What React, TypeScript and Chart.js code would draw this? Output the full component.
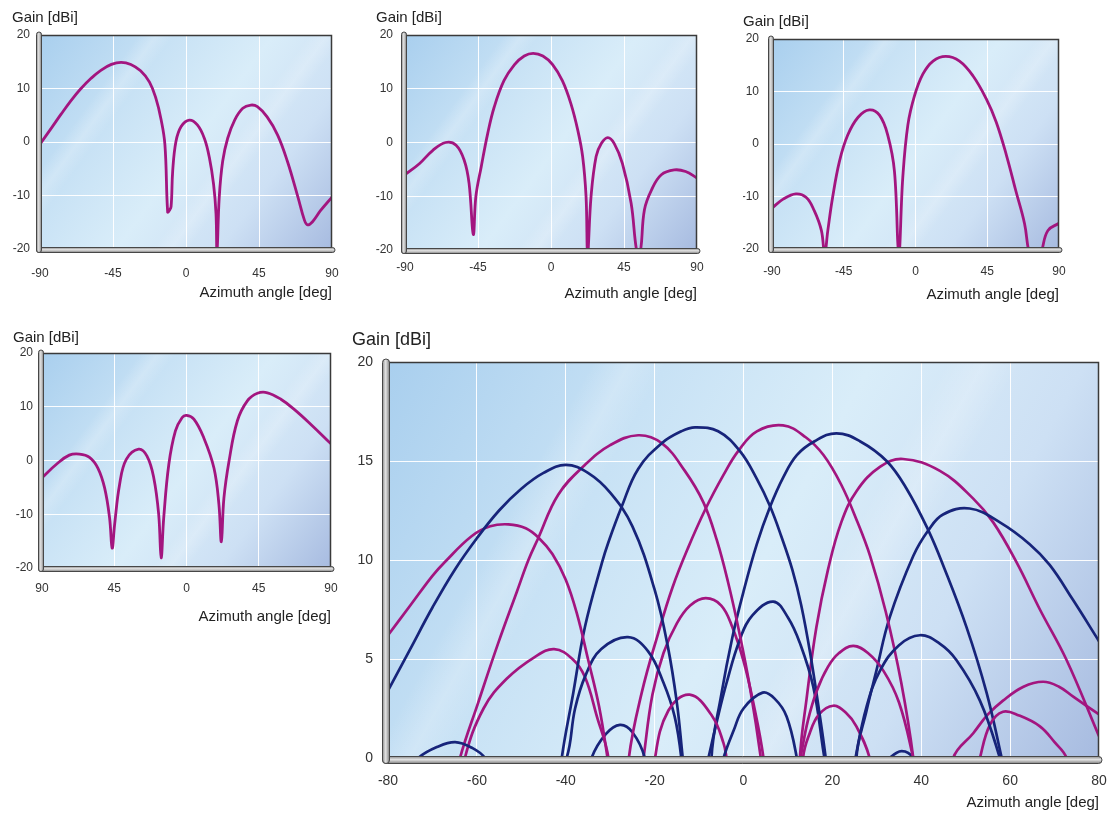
import React, { useEffect, useRef } from 'react';
import { Chart, registerables } from 'chart.js';

Chart.register(...registerables);

const MAGENTA = '#a3157f';
const NAVY = '#17247a';
const FONT = "'Liberation Sans', Arial, Helvetica, sans-serif";

// ---------- tick labels ----------
const smallYLabels = ['-20', '-10', '0', '10', '20'];
const smallXLabels = ['-90', '-45', '0', '45', '90'];
const sub4XLabels = ['90', '45', '0', '45', '90'];
const bigXLabels = ['-80', '-60', '-40', '-20', '0', '20', '40', '60', '80'];
const bigYLabels = ['0', '5', '10', '15', '20'];

// ---------- subplot 1 (beam at -40 deg) ----------
const sub1Angle = [-90, -83, -77, -71, -65, -58.5, -52.5, -46, -40, -34, -28, -22.5, -18.5, -15.5, -13, -11.3, -10.3, -9.2, -8.2, -6.2, -3, 2, 7, 11.3, 14.4, 17, 18.5, 19.1, 20.5, 22.6, 25.7, 30, 35, 40, 44, 50, 56.5, 62.5, 69, 73, 75, 78, 83, 90];
const sub1Gain = [-0.4, 2.6, 5.2, 7.7, 9.9, 11.9, 13.4, 14.5, 14.9, 14.5, 13.3, 11.2, 8.1, 4.4, -0.5, -13.1, -12.8, -12.1, -5.4, 0.1, 2.9, 4.1, 3.2, 0.7, -2.9, -7.9, -13.4, -20.5, -10.3, -3.6, 0.7, 4.1, 6.3, 6.9, 6.6, 4.7, 1.3, -3.6, -10.3, -14.6, -15.5, -14.9, -12.8, -10.3];

// ---------- subplot 2 (beam at -11 deg) ----------
const sub2Angle = [-90, -81, -73, -65, -58.5, -53.5, -50.5, -47.9, -46.3, -43, -39, -35, -29, -22.5, -16.5, -11, -5, 1, 7, 12.3, 16.5, 19.5, 21.6, 22.6, 24.7, 27.8, 31, 35, 39, 44, 49.4, 53, 55, 57.6, 62, 68, 76, 83, 90];
const sub2Gain = [-6.0, -3.9, -1.5, 0, -0.5, -3.3, -7.6, -17.1, -10, -4.5, 1.7, 6.6, 11.5, 14.5, 16.1, 16.6, 16.1, 14.5, 11.5, 7.2, 2.3, -2.6, -10, -20.5, -10, -2.6, -0.2, 0.9, -0.2, -3.9, -11.3, -20.5, -20.5, -12.5, -8.8, -6, -5.1, -5.4, -6.6];

// ---------- subplot 3 (beam at +19 deg) ----------
const sub3Angle = [-90, -83, -75, -68.5, -63.5, -59, -57, -55, -52, -47.7, -42.5, -36, -29, -22.6, -17.4, -13.2, -10.5, -8, -4.8, -0.6, 4.6, 11, 19, 27.6, 36, 44.4, 50.6, 57, 63, 68.4, 71.1, 75, 79, 83, 90];
const sub3Gain = [-12.2, -10.5, -9.5, -10.2, -12.7, -16.5, -21, -16.5, -10.2, -3.3, 1.7, 5.1, 6.5, 5.5, 1.7, -5.2, -21, -6.5, 3.6, 9.2, 13.3, 15.8, 16.7, 15.8, 13.0, 8.6, 4.2, -2.1, -9, -15.2, -20.5, -24, -20.5, -16.5, -15.1];

// ---------- subplot 4 (beam at +50 deg) ----------
const sub4Angle = [-90, -81, -73, -66.7, -60.4, -55.2, -51, -47.9, -46.3, -44.8, -41.7, -37.5, -29.8, -24.6, -20.4, -17.3, -15.8, -14.2, -11, -6.9, -2.7, 0, 4.6, 10.8, 17.1, 20.2, 21.7, 23.3, 26.5, 31.7, 37.9, 44.2, 50.4, 58.8, 67.1, 77.5, 90];
const sub4Gain = [-3.2, -0.7, 1.0, 1.2, 0.6, -1.4, -5.1, -10.7, -16.3, -12.0, -4.5, 0.2, 2.1, 0.8, -3.2, -10.1, -18.1, -10.7, -0.7, 5.5, 8.0, 8.4, 7.7, 4.2, -1.4, -8.2, -15.1, -7.0, -0.1, 7.4, 11.1, 12.5, 12.6, 11.4, 9.5, 6.7, 3.1];

// ---------- main chart: navy beams ----------
const n1Angle = [-80, -75, -70, -65, -60, -55, -50, -45, -40, -35, -30, -25, -20, -17, -15, -13.9, -12, -10, -8, -4.5, -2.2, 0, 4.3, 7, 9.7, 12, 14, 18, 22, 25.2, 27.7, 30.7, 35, 39.7, 44, 47.9, 53.2, 57.7, 60, 70, 80];
const n1Gain = [3.4, 5.5, 7.6, 9.5, 11.1, 12.5, 13.6, 14.4, 14.8, 14.4, 13.4, 11.7, 8.5, 5.6, 2.8, 0.5, -4, -10, -3, 0, 1.4, 2.5, 3.3, 3.0, 2.1, 0, -3, -15, -4, 0, 2.6, 4.4, 5.7, 6.2, 5.8, 4.95, 2.9, 0, -2, -10, -14];

const n2Angle = [-80, -76, -73.2, -69, -64.9, -61, -58.2, -55, -50, -47.5, -44, -40.9, -38.3, -35.7, -31.8, -30.4, -27.4, -23.7, -18.4, -14, -10.9, -5.7, -0.8, 3, 6, 8.5, 11, 13, 15, 17, 18.5, 20, 22.5, 26, 30, 32.9, 35.6, 38.2, 42, 48, 54, 60, 70, 80];
const n2Gain = [-3, -0.8, 0, 0.55, 0.8, 0.5, 0, -1.5, -6, -17, -6, 0, 3.3, 6.6, 9.9, 10.9, 12.7, 14.6, 15.9, 16.5, 16.7, 16.5, 15.5, 14.1, 12.7, 11.2, 9.5, 7.7, 5.3, 2.4, 0, -3, -20, -5, -0.8, 0, 0.35, 0, -2, -10, -20, -11, -6, -5.2];

const n3Angle = [-80, -70, -60, -50, -44, -39.8, -37.9, -35.5, -32, -26, -21.5, -18, -15.5, -14, -12, -10, -7.2, -5, -2.5, 0, 3, 6, 9, 12, 16, 20.9, 26.2, 32.2, 36.7, 41.6, 44.9, 50.2, 54.7, 58.1, 62, 70, 80];
const n3Gain = [-10, -10, -20, -4, -2, 0, 2.5, 4.2, 5.5, 6.1, 5.4, 3.8, 2.1, 0, -5, -20, 0, 3.2, 6.1, 8.4, 10.8, 12.7, 14.2, 15.3, 16.0, 16.4, 16.0, 15.0, 13.6, 11.5, 9.75, 6.6, 3.3, 0, -4, -20, -16];

const n4Angle = [-80, -70, -60, -50, -45, -40, -34.2, -31, -27.8, -25, -22.2, -20, -16, -12, -7.9, -6.1, -3.8, -0.8, 2, 6.7, 10, 12.7, 15.7, 18, 19.5, 22.5, 25.4, 27.7, 29.9, 32.9, 38.2, 41.6, 44.9, 50.9, 57.7, 64.4, 68.9, 74.1, 80];
const n4Gain = [-2, -1, -2, -6, -16, -4, 0, 1.2, 1.67, 1.3, 0, -3, -18, -4, 0, 1.75, 3.8, 6.0, 7.2, 7.9, 7.1, 5.8, 3.6, 0.3, -2, -15, 0, 2.4, 4.4, 7.1, 10.2, 11.5, 12.3, 12.6, 11.9, 10.8, 9.75, 8.0, 5.9];

// ---------- main chart: magenta beams ----------
const m1Angle = [-80, -75, -70, -67.2, -61.2, -57, -52.9, -49, -46, -43, -40, -37.5, -35, -32.5, -30.6, -28, -24, -22, -19.9, -16.9, -12.1, -7, -4.5, -3.8, -1, 5, 10, 12.8, 14.5, 16.5, 19, 21.5, 24.7, 28, 31.5, 35, 38.2, 41, 50, 60, 70, 80];
const m1Gain = [6.2, 7.7, 9.2, 9.9, 11.2, 11.7, 11.8, 11.6, 11.1, 10.3, 9.0, 7.3, 5.0, 2.6, 0, -4, -15, -5, 0, 2.4, 3.2, 2.1, 0.75, 0, -3, -15, -3, 0, 1.9, 3.4, 4.6, 5.3, 5.66, 5.3, 4.4, 2.8, 0, -3, -12, -8, -10, -20];

const m2Angle = [-80, -72, -68, -63.8, -59.7, -55.2, -51, -48.4, -46.2, -41.7, -35.7, -30, -23.7, -18.4, -13.2, -9, -6, -3.5, -1, 1.5, 3.9, 6, 9, 13.4, 14.9, 17, 20.2, 23, 25.4, 28.4, 31, 40, 50, 53.2, 55.5, 58.4, 62, 66.7, 70, 72.7, 76, 80];
const m2Gain = [-5, -15, -4, 0, 2.8, 5.8, 8.4, 10, 11.1, 13.3, 14.8, 15.8, 16.3, 15.9, 14.5, 12.9, 11.0, 8.9, 6.4, 3.5, 0, -4, -15, 0, 1.25, 2.2, 2.64, 2.3, 1.6, 0, -3, -12, -3, 0, 1.7, 2.34, 2.15, 1.6, 0.8, 0, -3, -6];

const m3Angle = [-80, -70, -65, -62.7, -58.5, -53.3, -47, -42.6, -38.5, -35.7, -33, -30.4, -28, -25.8, -22.9, -19.2, -16, -12.5, -8.5, -4.5, -1.2, 3, 8.9, 14, 18, 22, 25.5, 28.5, 32, 35.5, 38.2, 41, 44, 47.2, 51.7, 55, 58.4, 63, 67.4, 71, 74.2, 80];
const m3Gain = [-5, -8, -3, 0, 2.5, 4.0, 5.1, 5.5, 5.0, 4.1, 2.1, 0, -6, 0, 3.3, 6.3, 8.6, 10.6, 12.6, 14.3, 15.5, 16.5, 16.8, 16.2, 15.3, 13.8, 12.0, 10.2, 7.4, 3.8, 0, -6, -4, 0, 1.25, 2.2, 2.9, 3.6, 3.85, 3.6, 3.1, 2.2];

const m4Angle = [-80, -60, -40, -30, -25, -22.5, -20.5, -18, -15, -12, -8.5, -5, -2.5, 0, 2.2, 4.5, 7, 10, 12.7, 14.2, 16.4, 19, 22, 25.5, 30.7, 35.9, 44.2, 51.7, 56.2, 61.4, 66.7, 72.7, 80];
const m4Gain = [-10, -6, -15, -3, -4, 0, 3.2, 5.3, 6.8, 7.7, 8.07, 7.7, 6.6, 4.9, 2.8, 0, -5, -15, 0, 3.0, 6.6, 9.5, 11.9, 13.5, 14.7, 15.1, 14.5, 13.1, 11.9, 9.9, 7.5, 4.95, 1.1];

// ---------- helpers ----------
type Series = { x: number[]; y: number[]; color: string };

type PanelSpec = {
  left: number; top: number; width: number; height: number;
  padL: number; padR: number;
  yW: number; xH: number;
  gainSize: number; gainTop: number; gainBottom: number;
  tickSize: number; xTickPad: number; yTickPad: number;
  titleSize: number; xTitleBottom: number;
  xMin: number; xMax: number; xStep: number;
  yMin: number; yMax: number; yStep: number;
  xLabels: string[]; yLabels: string[];
  series: Series[];
  lineWidth: number; bar: number;
};

const toPoints = (xs: number[], ys: number[]) => xs.map((x, i) => ({ x, y: ys[i] }));

const bgPlugin = {
  id: 'plotBg',
  beforeDraw(chart: any) {
    const { ctx, chartArea } = chart;
    const { left, top, right, bottom } = chartArea;
    ctx.save();
    const g = ctx.createLinearGradient(left, top, right, bottom);
    g.addColorStop(0, '#a9cfee');
    g.addColorStop(0.3, '#c8e2f5');
    g.addColorStop(0.52, '#d9edf9');
    g.addColorStop(0.75, '#cde0f4');
    g.addColorStop(1, '#a7bbe0');
    ctx.fillStyle = g;
    ctx.fillRect(left, top, right - left, bottom - top);
    const s = ctx.createLinearGradient(left, top, right, bottom);
    s.addColorStop(0, 'rgba(255,255,255,0)');
    s.addColorStop(0.22, 'rgba(255,255,255,0)');
    s.addColorStop(0.26, 'rgba(255,255,255,0.22)');
    s.addColorStop(0.3, 'rgba(255,255,255,0)');
    s.addColorStop(0.6, 'rgba(255,255,255,0)');
    s.addColorStop(0.64, 'rgba(255,255,255,0.2)');
    s.addColorStop(0.68, 'rgba(255,255,255,0)');
    s.addColorStop(1, 'rgba(255,255,255,0)');
    ctx.fillStyle = s;
    ctx.fillRect(left, top, right - left, bottom - top);
    ctx.restore();
  },
};

const framePlugin = {
  id: 'frame',
  afterDraw(chart: any, _args: any, opts: any) {
    const { ctx, chartArea } = chart;
    const { left, top, right, bottom } = chartArea;
    const b = opts.bar || 5;
    ctx.save();
    ctx.strokeStyle = '#3a3a3a';
    ctx.lineWidth = 1.5;
    ctx.beginPath();
    ctx.moveTo(left, top + 0.5);
    ctx.lineTo(right - 0.5, top + 0.5);
    ctx.lineTo(right - 0.5, bottom);
    ctx.stroke();
    const drawBar = (x: number, y: number, w: number, h: number, vertical: boolean) => {
      const g = vertical ? ctx.createLinearGradient(x, 0, x + w, 0) : ctx.createLinearGradient(0, y, 0, y + h);
      g.addColorStop(0, '#8f8f8f');
      g.addColorStop(0.45, '#e4e4e4');
      g.addColorStop(1, '#808080');
      ctx.fillStyle = g;
      ctx.beginPath();
      ctx.roundRect(x, y, w, h, Math.min(w, h) / 2);
      ctx.fill();
      ctx.lineWidth = 1;
      ctx.strokeStyle = '#474747';
      ctx.stroke();
    };
    const x0 = left - b + 1.5;
    drawBar(x0, bottom - 1.5, right + 3 - x0, b, false);
    drawBar(x0, top - 3, b, bottom - 1.5 + b - (top - 3), true);
    ctx.restore();
  },
};

function buildConfig(s: PanelSpec): any {
  return {
    type: 'line',
    data: {
      datasets: s.series.map((se) => ({
        data: toPoints(se.x, se.y),
        borderColor: se.color,
        backgroundColor: se.color,
        borderWidth: s.lineWidth,
        pointRadius: 0,
        tension: 0.4,
        fill: false,
      })),
    },
    options: {
      responsive: false,
      animation: false,
      devicePixelRatio: 1,
      events: [],
      layout: { autoPadding: false, padding: { left: s.padL, right: s.padR, top: 0, bottom: 0 } },
      plugins: {
        legend: { display: false },
        tooltip: { enabled: false },
        title: {
          display: true,
          text: 'Gain [dBi]',
          align: 'start',
          color: '#222',
          font: { family: FONT, size: s.gainSize, weight: 'normal', lineHeight: 1.2 },
          padding: { top: s.gainTop, bottom: s.gainBottom },
        },
        frame: { bar: s.bar },
      },
      scales: {
        x: {
          type: 'linear',
          min: s.xMin,
          max: s.xMax,
          afterFit: (sc: any) => { sc.height = s.xH; sc.paddingLeft = 0; sc.paddingRight = 0; },
          grid: { color: 'rgba(255,255,255,0.95)', lineWidth: 1, drawTicks: false },
          border: { display: false },
          ticks: {
            stepSize: s.xStep,
            autoSkip: false,
            maxRotation: 0,
            padding: s.xTickPad,
            color: '#333',
            font: { family: FONT, size: s.tickSize },
            callback: (_v: any, i: number) => s.xLabels[i],
          },
          title: {
            display: true,
            text: 'Azimuth angle [deg]',
            align: 'end',
            color: '#222',
            font: { family: FONT, size: s.titleSize, lineHeight: 1.2 },
            padding: { top: 0, bottom: s.xTitleBottom },
          },
        },
        y: {
          type: 'linear',
          min: s.yMin,
          max: s.yMax,
          afterFit: (sc: any) => { sc.width = s.yW; sc.paddingTop = 0; sc.paddingBottom = 0; },
          grid: { color: 'rgba(255,255,255,0.95)', lineWidth: 1, drawTicks: false },
          border: { display: false },
          ticks: {
            stepSize: s.yStep,
            autoSkip: false,
            padding: s.yTickPad,
            color: '#333',
            font: { family: FONT, size: s.tickSize },
            callback: (_v: any, i: number) => s.yLabels[i],
          },
        },
      },
    },
    plugins: [bgPlugin, framePlugin],
  };
}

function Panel({ spec }: { spec: PanelSpec }) {
  const ref = useRef<HTMLCanvasElement>(null);
  useEffect(() => {
    const chart = new Chart(ref.current as HTMLCanvasElement, buildConfig(spec));
    return () => chart.destroy();
  }, [spec]);
  return (
    <div style={{ position: 'absolute', left: spec.left, top: spec.top, width: spec.width, height: spec.height }}>
      <canvas ref={ref} width={spec.width} height={spec.height} style={{ display: 'block', width: spec.width, height: spec.height }} />
    </div>
  );
}

const smallCommon = {
  gainSize: 15, tickSize: 12, titleSize: 15,
  xMin: -90, xMax: 90, xStep: 45, yMin: -20, yMax: 20, yStep: 10,
  yLabels: smallYLabels, lineWidth: 2.8, bar: 5,
};

const panels: PanelSpec[] = [
  {
    ...smallCommon, left: 0, top: 0, width: 345, height: 305,
    padL: 12, padR: 13, yW: 28, xH: 56, gainTop: 9, gainBottom: 8,
    xTickPad: 17, yTickPad: 10, xTitleBottom: 3,
    xLabels: smallXLabels,
    series: [{ x: sub1Angle, y: sub1Gain, color: MAGENTA }],
  },
  {
    ...smallCommon, left: 360, top: 0, width: 345, height: 305,
    padL: 16, padR: 8, yW: 29, xH: 55, gainTop: 9, gainBottom: 8,
    xTickPad: 10, yTickPad: 12, xTitleBottom: 2,
    xLabels: smallXLabels,
    series: [{ x: sub2Angle, y: sub2Gain, color: MAGENTA }],
  },
  {
    ...smallCommon, left: 720, top: 0, width: 360, height: 305,
    padL: 23, padR: 21, yW: 29, xH: 56, gainTop: 12.5, gainBottom: 8.5,
    xTickPad: 15, yTickPad: 13, xTitleBottom: 1,
    xLabels: smallXLabels,
    series: [{ x: sub3Angle, y: sub3Gain, color: MAGENTA }],
  },
  {
    ...smallCommon, left: 0, top: 320, width: 345, height: 310,
    padL: 13, padR: 14, yW: 29, xH: 62, gainTop: 9, gainBottom: 6,
    xTickPad: 13, yTickPad: 9, xTitleBottom: 4,
    xLabels: sub4XLabels,
    series: [{ x: sub4Angle, y: sub4Gain, color: MAGENTA }],
  },
  {
    left: 340, top: 320, width: 775, height: 501,
    padL: 12, padR: 16, yW: 36, xH: 63,
    gainSize: 18, gainTop: 9.2, gainBottom: 11.2,
    tickSize: 14, xTickPad: 15, yTickPad: 15,
    titleSize: 15, xTitleBottom: 9,
    xMin: -80, xMax: 80, xStep: 20, yMin: 0, yMax: 20, yStep: 5,
    xLabels: bigXLabels, yLabels: bigYLabels,
    lineWidth: 2.7, bar: 7,
    series: [
      { x: n1Angle, y: n1Gain, color: NAVY },
      { x: m1Angle, y: m1Gain, color: MAGENTA },
      { x: n2Angle, y: n2Gain, color: NAVY },
      { x: m2Angle, y: m2Gain, color: MAGENTA },
      { x: n3Angle, y: n3Gain, color: NAVY },
      { x: m3Angle, y: m3Gain, color: MAGENTA },
      { x: n4Angle, y: n4Gain, color: NAVY },
      { x: m4Angle, y: m4Gain, color: MAGENTA },
    ],
  },
];

export default function App() {
  return (
    <div style={{ position: 'absolute', left: 0, top: 0, width: 1115, height: 821, background: '#ffffff', overflow: 'hidden' }}>
      {panels.map((p, i) => (
        <Panel key={i} spec={p} />
      ))}
    </div>
  );
}
